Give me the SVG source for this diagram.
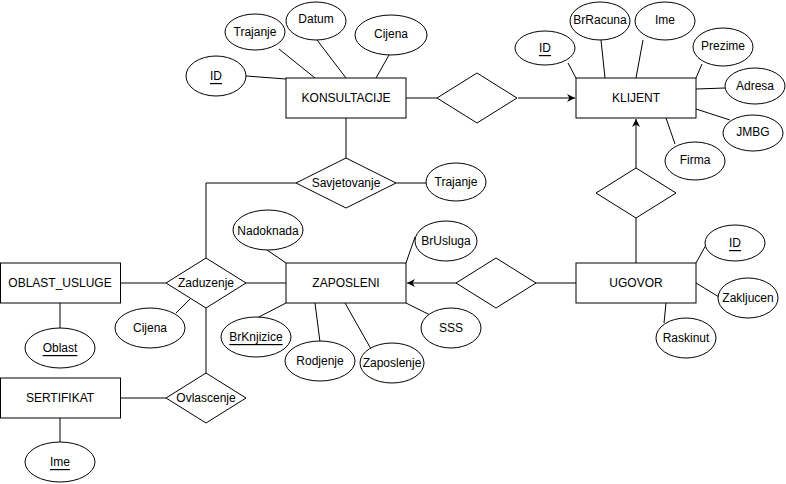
<svg xmlns="http://www.w3.org/2000/svg" width="786" height="484" viewBox="0 0 786 484">
  <style>
    .ent rect, .rel polygon, .att ellipse { fill: #ffffff; stroke: #000000; stroke-width: 1; }
    text { font-family: "Liberation Sans", Arial, Helvetica, sans-serif; font-size: 12px; fill: #000000; text-anchor: middle; dominant-baseline: central; }
    .key { text-decoration: underline; }
    #connectors path { fill: none; stroke: #000000; stroke-width: 1; }
  </style>
  <defs>
    <marker id="arrow" viewBox="0 0 10 10" refX="10" refY="5" markerWidth="8" markerHeight="8" markerUnits="userSpaceOnUse" orient="auto">
      <path d="M0,0 L10,5 L0,10 L3,5 Z" fill="#000000"/>
    </marker>
  </defs>
  <rect width="786" height="484" fill="#ffffff"/>

  <g id="connectors">
    <!-- KONSULTACIJE attributes -->
    <path d="M246,76 L286,79"/>
    <path d="M279,49 L315,78"/>
    <path d="M317,40 L346,78"/>
    <path d="M389,55 L376,78"/>
    <!-- KONSULTACIJE - relation - KLIJENT -->
    <path d="M406,98 L437,98"/>
    <path d="M518,98 L575,98" marker-end="url(#arrow)"/>
    <!-- KLIJENT attributes -->
    <path d="M568,63 L576,78"/>
    <path d="M601,40 L605,78"/>
    <path d="M643,40 L636,78"/>
    <path d="M702,64 L696,78"/>
    <path d="M725,88 L696,89"/>
    <path d="M696,109 L730,120"/>
    <path d="M666,118 L675,144"/>
    <!-- UGOVOR - relation - KLIJENT -->
    <path d="M636,168 L636,119" marker-end="url(#arrow)"/>
    <path d="M636,218 L636,263"/>
    <!-- UGOVOR attributes -->
    <path d="M706,245 L696,263"/>
    <path d="M696,283 L719,297"/>
    <path d="M666,303 L664,323"/>
    <!-- UGOVOR - relation - ZAPOSLENI -->
    <path d="M576,283 L536,283"/>
    <path d="M456,283 L407,283" marker-end="url(#arrow)"/>
    <!-- KONSULTACIJE - Savjetovanje -->
    <path d="M346,118 L346,158"/>
    <path d="M396,183 L426,183"/>
    <path d="M296,183 L206,183 L206,258"/>
    <!-- ZAPOSLENI attributes -->
    <path d="M267,250 L286,263"/>
    <path d="M415,237 L406,263"/>
    <path d="M406,303 L430,315"/>
    <path d="M345,303 L371,349"/>
    <path d="M315,303 L320,342"/>
    <path d="M286,303 L257,318"/>
    <!-- Zaduzenje -->
    <path d="M246,283 L286,283"/>
    <path d="M120,283 L166,283"/>
    <path d="M176,313 L190,299"/>
    <path d="M60,303 L60,328"/>
    <path d="M206,308 L206,373"/>
    <!-- Ovlascenje -->
    <path d="M120,398 L166,398"/>
    <path d="M60,418 L60,442"/>
  </g>

  <!-- entities -->
  <g id="konsultacije" class="ent"><rect x="286" y="78" width="120" height="40"/><text x="346" y="98">KONSULTACIJE</text></g>
  <g id="klijent" class="ent"><rect x="576" y="78" width="120" height="40"/><text x="636" y="98">KLIJENT</text></g>
  <g id="zaposleni" class="ent"><rect x="286" y="263" width="120" height="40"/><text x="346" y="283">ZAPOSLENI</text></g>
  <g id="ugovor" class="ent"><rect x="576" y="263" width="120" height="40"/><text x="636" y="283">UGOVOR</text></g>
  <g id="oblast_usluge" class="ent"><rect x="0.5" y="263" width="120" height="40"/><text x="60" y="283">OBLAST_USLUGE</text></g>
  <g id="sertifikat" class="ent"><rect x="0.5" y="378" width="120" height="40"/><text x="60" y="398">SERTIFIKAT</text></g>

  <!-- relationships -->
  <g id="rel_konsultacije_klijent" class="rel"><polygon points="437,98 477,73 517,98 477,123"/></g>
  <g id="rel_ugovor_klijent" class="rel"><polygon points="596,193 636,168 676,193 636,218"/></g>
  <g id="rel_ugovor_zaposleni" class="rel"><polygon points="456,283 496,258 536,283 496,308"/></g>
  <g id="savjetovanje" class="rel"><polygon points="296,183 346,158 396,183 346,208"/><text x="346" y="183">Savjetovanje</text></g>
  <g id="zaduzenje" class="rel"><polygon points="166,283 206,258 246,283 206,308"/><text x="206" y="283">Zaduzenje</text></g>
  <g id="ovlascenje" class="rel"><polygon points="166,398 206,373 246,398 206,423"/><text x="206" y="398">Ovlascenje</text></g>

  <!-- KONSULTACIJE attributes -->
  <g id="k_id" class="att"><ellipse cx="216" cy="76" rx="30" ry="20"/><text x="216" y="76" class="key">ID</text></g>
  <g id="k_trajanje" class="att"><ellipse cx="255" cy="32" rx="30" ry="18"/><text x="255" y="32">Trajanje</text></g>
  <g id="k_datum" class="att"><ellipse cx="316" cy="21" rx="30" ry="19"/><text x="316" y="19">Datum</text></g>
  <g id="k_cijena" class="att"><ellipse cx="391" cy="35" rx="36" ry="20"/><text x="391" y="34">Cijena</text></g>

  <!-- KLIJENT attributes -->
  <g id="kl_id" class="att"><ellipse cx="545" cy="48" rx="30" ry="17"/><text x="545" y="48" class="key">ID</text></g>
  <g id="kl_brracuna" class="att"><ellipse cx="600" cy="21" rx="30" ry="19"/><text x="600" y="20">BrRacuna</text></g>
  <g id="kl_ime" class="att"><ellipse cx="665" cy="21" rx="30" ry="19"/><text x="665" y="20">Ime</text></g>
  <g id="kl_prezime" class="att"><ellipse cx="723" cy="47" rx="30" ry="19"/><text x="723" y="46">Prezime</text></g>
  <g id="kl_adresa" class="att"><ellipse cx="755" cy="86" rx="30" ry="18"/><text x="755" y="86">Adresa</text></g>
  <g id="kl_jmbg" class="att"><ellipse cx="753" cy="133" rx="30" ry="18"/><text x="753" y="132">JMBG</text></g>
  <g id="kl_firma" class="att"><ellipse cx="695" cy="161" rx="30" ry="19"/><text x="695" y="160">Firma</text></g>

  <!-- Savjetovanje attribute -->
  <g id="s_trajanje" class="att"><ellipse cx="456" cy="182" rx="30" ry="19"/><text x="456" y="182">Trajanje</text></g>

  <!-- ZAPOSLENI attributes -->
  <g id="z_nadoknada" class="att"><ellipse cx="268" cy="230" rx="35" ry="20"/><text x="268" y="231">Nadoknada</text></g>
  <g id="z_brusluga" class="att"><ellipse cx="446" cy="241" rx="31" ry="20"/><text x="446" y="241">BrUsluga</text></g>
  <g id="z_sss" class="att"><ellipse cx="451" cy="328" rx="30" ry="20"/><text x="451" y="328">SSS</text></g>
  <g id="z_zaposlenje" class="att"><ellipse cx="392" cy="363" rx="32" ry="20"/><text x="392" y="363">Zaposlenje</text></g>
  <g id="z_rodjenje" class="att"><ellipse cx="320" cy="361" rx="35" ry="20"/><text x="320" y="361">Rodjenje</text></g>
  <g id="z_brknjizice" class="att"><ellipse cx="256" cy="337" rx="35" ry="20"/><text x="256" y="337" class="key">BrKnjizice</text></g>

  <!-- UGOVOR attributes -->
  <g id="u_id" class="att"><ellipse cx="735" cy="243" rx="30" ry="18"/><text x="735" y="243" class="key">ID</text></g>
  <g id="u_zakljucen" class="att"><ellipse cx="748" cy="298" rx="30" ry="20"/><text x="748" y="298">Zakljucen</text></g>
  <g id="u_raskinut" class="att"><ellipse cx="686" cy="338" rx="30" ry="20"/><text x="686" y="338">Raskinut</text></g>

  <!-- Zaduzenje / OBLAST_USLUGE / SERTIFIKAT attributes -->
  <g id="zd_cijena" class="att"><ellipse cx="150" cy="328" rx="35" ry="20"/><text x="150" y="328">Cijena</text></g>
  <g id="o_oblast" class="att"><ellipse cx="60" cy="348" rx="35" ry="20"/><text x="60" y="348" class="key">Oblast</text></g>
  <g id="s_ime" class="att"><ellipse cx="60" cy="462" rx="35" ry="20"/><text x="60" y="462" class="key">Ime</text></g>
</svg>
